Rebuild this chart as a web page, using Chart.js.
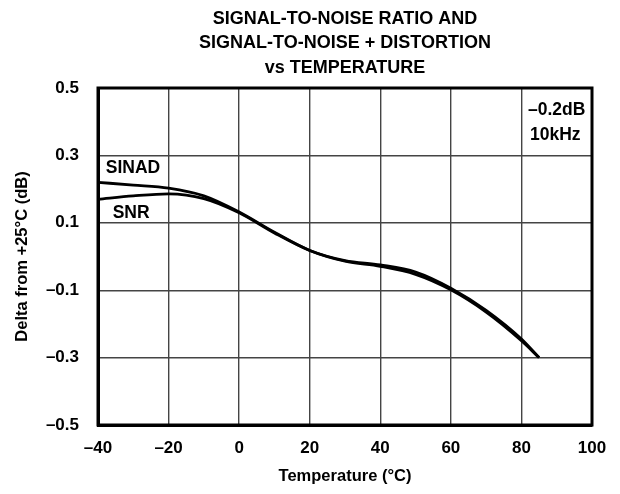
<!DOCTYPE html>
<html>
<head>
<meta charset="utf-8">
<script src="https://cdn.jsdelivr.net/npm/chart.js@4/dist/chart.umd.min.js"></script>
<style>
  html, body { margin: 0; padding: 0; background: #fff; }
  #wrap { width: 620px; height: 494px; position: relative; }
</style>
</head>
<body>
<div id="wrap"><canvas id="myChart"></canvas></div>
<script>
const temps = [-40, -30, -20, -10, 0, 10, 20, 30, 40, 50, 60, 70, 80, 85];
const sinad = [0.22, 0.212, 0.203, 0.18, 0.132, 0.072, 0.018, -0.012, -0.025, -0.046, -0.094, -0.16, -0.245, -0.30];
const snr = [0.17, 0.18, 0.186, 0.172, 0.13, 0.07, 0.018, -0.014, -0.029, -0.053, -0.099, -0.165, -0.25, -0.30];
const xTicks = [-40, -20, 0, 20, 40, 60, 80, 100];
const yTicks = [-0.5, -0.3, -0.1, 0.1, 0.3, 0.5];
const titleLines = ["SIGNAL-TO-NOISE RATIO AND", "SIGNAL-TO-NOISE + DISTORTION", "vs TEMPERATURE"];

const FONT = "'Liberation Sans', Arial, sans-serif";

function minus(v, digits) {
    return (digits ? v.toFixed(digits) : String(v)).replace("-", "\u2013");
}

// frame, title and curve labels
const decor = {
    id: "decor",
    afterDraw(chart) {
        const ctx = chart.ctx;
        const a = chart.chartArea;
        const x = chart.scales.x, y = chart.scales.y;
        ctx.save();
        ctx.strokeStyle = "#000";
        ctx.lineWidth = 3;
        ctx.strokeRect(a.left, a.top, a.right - a.left, a.bottom - a.top);

        ctx.fillStyle = "#000";
        ctx.font = "bold 18px " + FONT;
        ctx.textAlign = "center";
        ctx.textBaseline = "middle";
        const cx = (a.left + a.right) / 2;
        titleLines.forEach(function (t, i) {
            ctx.fillText(t, cx, 19 + i * 24.5);
        });

        ctx.font = "bold 17.5px " + FONT;
        ctx.fillText("SINAD", x.getPixelForValue(-30.1), y.getPixelForValue(0.263));
        ctx.fillText("SNR", x.getPixelForValue(-30.6), y.getPixelForValue(0.129));
        ctx.fillText("\u20130.2dB", x.getPixelForValue(90), y.getPixelForValue(0.435));
        ctx.fillText("10kHz", x.getPixelForValue(89.6), y.getPixelForValue(0.361));
        ctx.restore();
    },
};

const ctx = document.getElementById("myChart");

new Chart(ctx, {
    type: "line",
    data: {
        datasets: [
            {
                label: "SINAD",
                data: temps.map((t, i) => ({ x: t, y: sinad[i] })),
                borderColor: "#000",
                borderWidth: 2.8,
                pointRadius: 0,
                cubicInterpolationMode: "monotone",
            },
            {
                label: "SNR",
                data: temps.map((t, i) => ({ x: t, y: snr[i] })),
                borderColor: "#000",
                borderWidth: 2.8,
                pointRadius: 0,
                cubicInterpolationMode: "monotone",
            },
        ],
    },
    options: {
        responsive: true,
        maintainAspectRatio: false,
        animation: false,
        layout: { padding: { top: 88, right: 28, left: 0, bottom: 0 } },
        plugins: {
            legend: { display: false },
            tooltip: { enabled: false },
        },
        scales: {
            x: {
                type: "linear",
                min: -40,
                max: 100,
                afterBuildTicks: (s) => { s.ticks = xTicks.map((v) => ({ value: v })); },
                afterFit: (s) => { s.height = 69; },
                ticks: {
                    color: "#000",
                    font: { family: FONT, size: 17, weight: "bold" },
                    padding: 13,
                    maxRotation: 0,
                    callback: (v) => minus(v),
                },
                grid: { color: "#444", lineWidth: 1.4, drawTicks: false },
                border: { color: "#000", width: 3 },
                title: {
                    display: true,
                    text: "Temperature (\u00B0C)",
                    color: "#000",
                    font: { family: FONT, size: 16.5, weight: "bold" },
                    padding: { top: 0, bottom: 8 },
                },
            },
            y: {
                type: "linear",
                min: -0.5,
                max: 0.5,
                afterBuildTicks: (s) => { s.ticks = yTicks.map((v) => ({ value: v })); },
                afterFit: (s) => { s.width = 98; },
                ticks: {
                    color: "#000",
                    font: { family: FONT, size: 17, weight: "bold" },
                    padding: 19,
                    callback: (v) => minus(v, 1),
                },
                grid: { color: "#444", lineWidth: 1.4, drawTicks: false },
                border: { color: "#000", width: 3 },
                title: {
                    display: true,
                    text: "Delta from +25\u00B0C (dB)",
                    color: "#000",
                    font: { family: FONT, size: 16.5, weight: "bold" },
                    padding: { top: 13, bottom: 0 },
                },
            },
        },
    },
    plugins: [decor],
});
</script>
</body>
</html>
